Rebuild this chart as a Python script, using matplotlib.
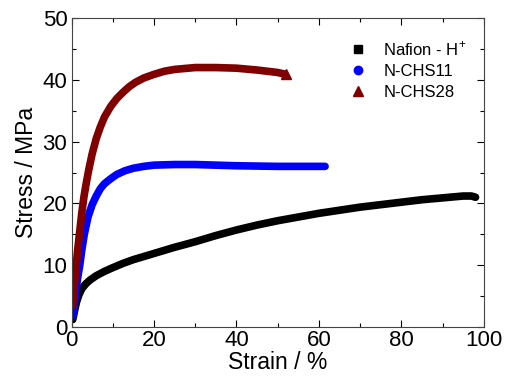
import matplotlib
matplotlib.use('Agg')
import matplotlib.pyplot as plt
from matplotlib.lines import Line2D
from matplotlib.ticker import MultipleLocator

plt.rcParams['font.family'] = ['Liberation Sans', 'DejaVu Sans']
plt.rcParams['mathtext.fontset'] = 'custom'
plt.rcParams['mathtext.rm'] = 'Liberation Sans'

# Nafion - H+
nafion_x = [0.3, 0.7, 1.2, 1.8, 2.5, 3.5, 4.5, 6, 8, 10, 12.5, 15, 17.5, 20, 25, 30, 35, 40,
            45, 50, 55, 60, 65, 70, 75, 80, 85, 90, 95, 97, 98]
nafion_y = [1.2, 2.5, 4.0, 5.2, 6.2, 7.0, 7.6, 8.3, 9.0, 9.6, 10.3, 10.9, 11.4, 11.9, 12.9, 13.8,
            14.8, 15.7, 16.5, 17.2, 17.8, 18.4, 18.9, 19.4, 19.8, 20.2, 20.6, 20.9, 21.2, 21.2, 21.0]

# N-CHS11
chs11_x = [0.3, 0.6, 1.0, 1.5, 2.0, 2.5, 3.1, 4, 5, 6, 7, 8, 9.5, 11, 13, 15, 17.5, 20, 25, 30,
           35, 40, 50, 61.5]
chs11_y = [1.8, 3.0, 5.5, 8.0, 10.0, 12.5, 15.0, 17.8, 19.8, 21.2, 22.4, 23.2, 24.0, 24.7, 25.3,
           25.7, 26.0, 26.2, 26.3, 26.3, 26.2, 26.1, 26.0, 26.0]

# N-CHS28
chs28_x = [0.2, 0.6, 1.0, 1.5, 2.0, 2.5, 3.0, 3.5, 4.2, 5, 6, 7, 8, 9.5, 11, 12.5, 14, 15.5, 17.5,
           20, 22.5, 25, 30, 35, 40, 45, 50, 52]
chs28_y = [3.0, 6.0, 9.0, 12.5, 15.5, 18.5, 21.0, 23.0, 25.5, 28.0, 30.5, 32.4, 34.0, 35.7, 37.0,
           38.0, 38.9, 39.6, 40.3, 40.9, 41.4, 41.7, 42.0, 42.0, 41.9, 41.6, 41.2, 40.9]

fig = plt.figure(figsize=(5.05, 3.78), dpi=100)
ax = fig.add_axes([0.1416, 0.135, 0.8164, 0.817])

ax.plot(nafion_x, nafion_y, color='black', lw=5.5, solid_capstyle='round', solid_joinstyle='round')
ax.plot(chs11_x, chs11_y, color='#0000ff', lw=5.5, solid_capstyle='round', solid_joinstyle='round')
ax.plot(chs28_x, chs28_y, color='#800000', lw=5.5, solid_capstyle='butt', solid_joinstyle='round',
        marker='^', markersize=7, markevery=[-1])

ax.set_xlim(0, 100)
ax.set_ylim(0, 50)
ax.xaxis.set_major_locator(MultipleLocator(20))
ax.xaxis.set_minor_locator(MultipleLocator(10))
ax.yaxis.set_major_locator(MultipleLocator(10))
ax.yaxis.set_minor_locator(MultipleLocator(5))
ax.tick_params(which='both', direction='in', top=True, right=True, labelsize=16)
ax.tick_params(axis='x', pad=2)
ax.tick_params(axis='y', pad=3)
ax.tick_params(which='major', length=5, width=0.8)
ax.tick_params(which='minor', length=3, width=0.8)
for s in ax.spines.values():
    s.set_color('#444444')

ax.set_xlabel('Strain / %', fontsize=16.5, labelpad=0)
ax.set_ylabel('Stress / MPa', fontsize=16.5, labelpad=3)

handles = [
    Line2D([], [], color='black', marker='s', ls='none', markersize=6),
    Line2D([], [], color='#0000ff', marker='o', ls='none', markersize=6),
    Line2D([], [], color='#800000', marker='^', ls='none', markersize=7),
]
labels = ['Nafion - H$^{+}$', 'N-CHS11', 'N-CHS28']
ax.legend(handles, labels, loc='upper right', frameon=False, fontsize=12,
          handletextpad=0.5, labelspacing=0.35, bbox_to_anchor=(0.995, 0.98))

fig.savefig('out.png', dpi=100)
